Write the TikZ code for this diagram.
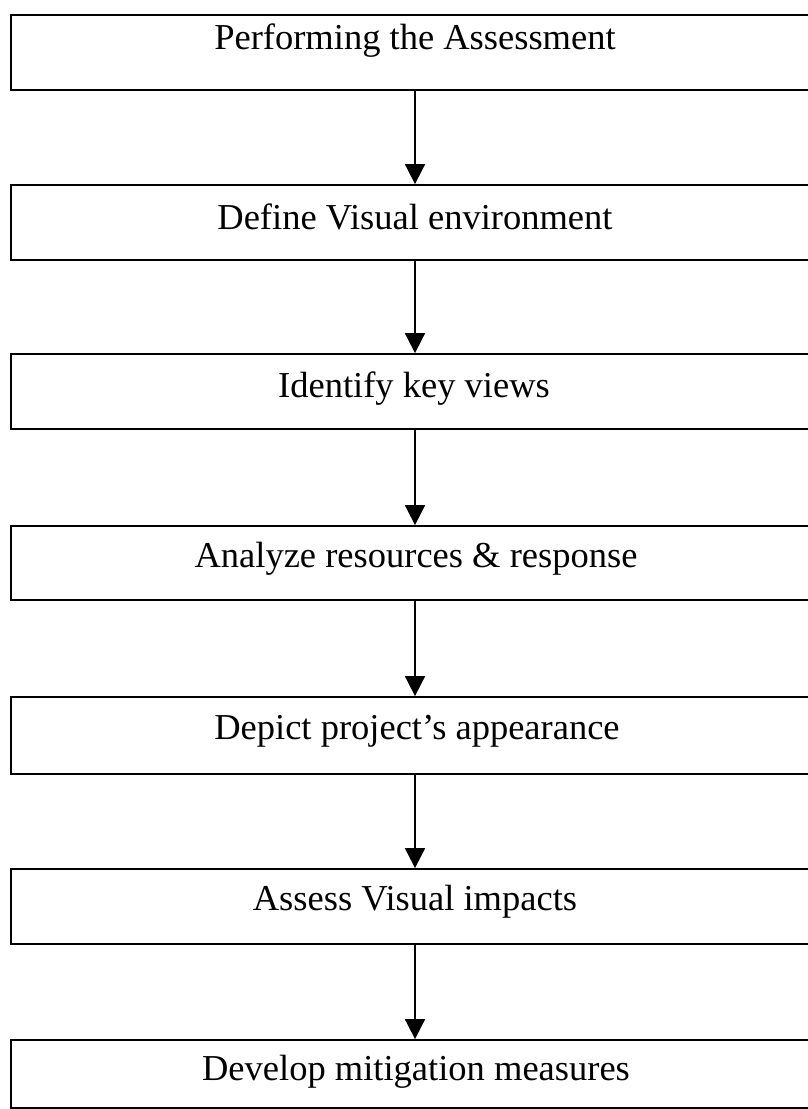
\documentclass[tikz,border=0pt]{standalone}
\usepackage{fontspec}
\setmainfont{Liberation Serif}
\usetikzlibrary{arrows.meta}
\tikzset{
  stepbox/.style={draw=black, line width=1.8pt, rectangle, minimum width=840pt, inner sep=0pt},
  steptext/.style={anchor=base, inner sep=0pt, font=\fontsize{36.5}{40}\selectfont},
  flow/.style={draw=black, line width=1.8pt, -{Triangle[length=20pt,width=20pt]}}
}
\begin{document}
\begin{tikzpicture}[x=1pt,y=-1pt]
\useasboundingbox (0,0) rectangle (808,1109);
\clip (0,0) rectangle (808,1109);
% boxes: left edge at x=11, extending past right edge
\node[stepbox, minimum height=75pt] (b1) at (431,52.5) {};
\node[stepbox, minimum height=75pt] (b2) at (431,222.5) {};
\node[stepbox, minimum height=75pt] (b3) at (431,391.5) {};
\node[stepbox, minimum height=74pt] (b4) at (431,563) {};
\node[stepbox, minimum height=77pt] (b5) at (431,735.5) {};
\node[stepbox, minimum height=75pt] (b6) at (431,906.5) {};
\node[stepbox, minimum height=68pt] (b7) at (431,1074) {};
% texts
\node[steptext] (t1) at (415,49) {Performing the Assessment};
\node[steptext] (t2) at (415,229) {Define Visual environment};
\node[steptext] (t3) at (414,397) {Identify key views};
\node[steptext] (t4) at (416,567) {Analyze resources \& response};
\node[steptext] (t5) at (417,739) {Depict project’s appearance};
\node[steptext] (t6) at (415,910) {Assess Visual impacts};
\node[steptext] (t7) at (416,1080) {Develop mitigation measures};
% connectors
\draw[flow] (b1.south -| 415,0) -- (b2.north -| 415,0);
\draw[flow] (b2.south -| 415,0) -- (b3.north -| 415,0);
\draw[flow] (b3.south -| 415,0) -- (b4.north -| 415,0);
\draw[flow] (b4.south -| 415,0) -- (b5.north -| 415,0);
\draw[flow] (b5.south -| 415,0) -- (b6.north -| 415,0);
\draw[flow] (b6.south -| 415,0) -- (b7.north -| 415,0);
\end{tikzpicture}
\end{document}
